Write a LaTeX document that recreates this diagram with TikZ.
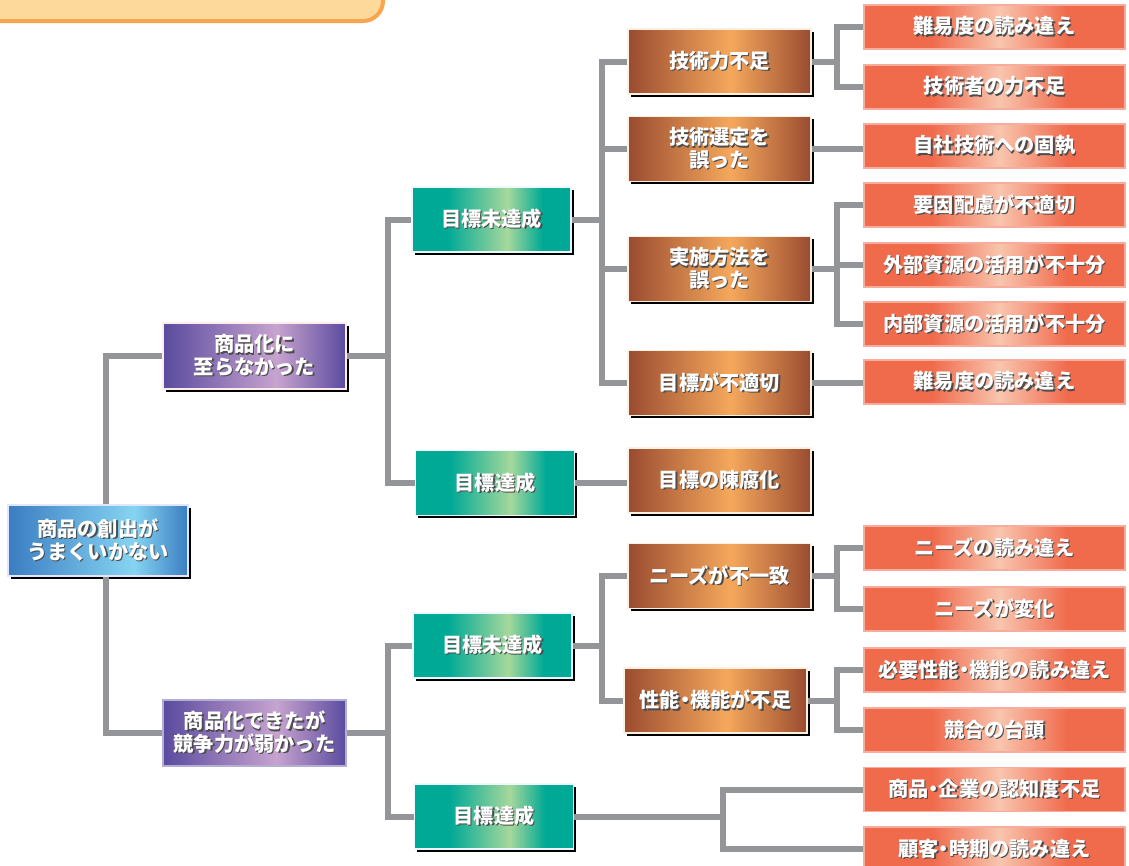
\documentclass[tikz,border=0pt]{standalone}
\usepackage{fontspec}
\setmainfont{Noto Sans CJK JP}
\usetikzlibrary{shadows}
\definecolor{rootE}{HTML}{3A7DC2}
\definecolor{rootL}{HTML}{86D4F2}
\definecolor{purE}{HTML}{5A4B9F}
\definecolor{purL}{HTML}{C7A3CF}
\definecolor{tealE}{HTML}{00A996}
\definecolor{tealL}{HTML}{A6D89C}
\definecolor{brE}{HTML}{9A4B30}
\definecolor{brL}{HTML}{F5A85C}
\definecolor{orE}{HTML}{F06A4C}
\definecolor{orL}{HTML}{F8C5AE}
\definecolor{connC}{HTML}{939598}
\definecolor{titleF}{HTML}{FDDA9C}
\definecolor{titleD}{HTML}{F7A54E}
\pgfdeclarehorizontalshading{rootsh}{100bp}{color(0bp)=(rootE); color(25bp)=(rootE); color(60bp)=(rootL); color(75bp)=(rootE); color(100bp)=(rootE)}
\pgfdeclarehorizontalshading{pursh}{100bp}{color(0bp)=(purE); color(25bp)=(purE); color(56bp)=(purL); color(75bp)=(purE); color(100bp)=(purE)}
\pgfdeclarehorizontalshading{tealsh}{100bp}{color(0bp)=(tealE); color(25bp)=(tealE); color(36bp)=(tealE); color(55bp)=(tealL); color(66bp)=(tealE); color(75bp)=(tealE); color(100bp)=(tealE)}
\pgfdeclarehorizontalshading{brsh}{100bp}{color(0bp)=(brE); color(25bp)=(brE); color(53bp)=(brL); color(75bp)=(brE); color(100bp)=(brE)}
\pgfdeclarehorizontalshading{orsh}{100bp}{color(0bp)=(orE); color(25bp)=(orE); color(38bp)=(orE); color(51bp)=(orL); color(64bp)=(orE); color(75bp)=(orE); color(100bp)=(orE)}
\newcommand\sht[1]{\leavevmode\rlap{\kern1.3pt\raisebox{-1.3pt}{\color{black!70}#1}}#1}
\newcommand\nd{\makebox[0.5em][c]{・}}
\begin{document}
\begin{tikzpicture}[x=1pt,y=-1pt,
  box/.style={rectangle, inner sep=0pt, text=white, align=center,
    font=\bfseries\fontsize{20.2}{22.5}\selectfont, line width=1.2pt},
  shd/.style={drop shadow={shadow xshift=2.5pt,shadow yshift=-2.5pt,fill=black,opacity=1}},
  lv0/.style={box, shd, shading=rootsh, draw=blue!10!white, minimum width=180pt, minimum height=71pt},
  lv1/.style={box, shd, shading=pursh, draw=red!8!white, minimum width=183pt, minimum height=66pt},
  lv1b/.style={box, shading=pursh, draw=purE!45!white, minimum width=183pt, minimum height=66pt},
  lv2/.style={box, shd, shading=tealsh, draw=cyan!8!white, minimum width=159pt, minimum height=65pt},
  lv3/.style={box, shd, shading=brsh, draw=orange!12!white, minimum width=183pt, minimum height=65pt},
  lv4/.style={box, shading=orsh, draw=orE!55!white, minimum width=261pt, minimum height=44pt},
  conn/.style={draw=connC, line width=6pt}]
\useasboundingbox (0,0) rectangle (1129,865);
\begin{scope}
\clip (0,0) rectangle (1129,865);
\draw[fill=titleF, draw=titleD, line width=4pt, rounded corners=20pt] (-40,-60) rectangle (383,21);
\end{scope}
% nodes
\node[lv0] (root) at (98,540.5) {\sht{商品の創出が}\\\sht{うまくいかない}};
\node[lv1] (L1a) at (254.5,356) {\sht{商品化に}\\\sht{至らなかった}};
\node[lv1b] (L1b) at (254.5,733) {\sht{商品化できたが}\\\sht{競争力が弱かった}};
\node[lv2] (L2a) at (491.5,219.5) {\sht{目標未達成}};
\node[lv2] (L2b) at (495,483) {\sht{目標達成}};
\node[lv2] (L2c) at (492.5,645.5) {\sht{目標未達成}};
\node[lv2] (L2d) at (494,816.5) {\sht{目標達成}};
\node[lv3] (L3a) at (719.5,61.5) {\sht{技術力不足}};
\node[lv3] (L3b) at (719.5,149) {\sht{技術選定を}\\\sht{誤った}};
\node[lv3] (L3c) at (719.5,269) {\sht{実施方法を}\\\sht{誤った}};
\node[lv3] (L3d) at (719.5,383) {\sht{目標が不適切}};
\node[lv3] (L3e) at (719.5,480.5) {\sht{目標の陳腐化}};
\node[lv3] (L3f) at (719.5,576) {\sht{ニーズが不一致}};
\node[lv3] (L3g) at (715.5,700.5) {\sht{性能\nd 機能が不足}};
\node[lv4] (L4a) at (994.5,27) {\sht{難易度の読み違え}};
\node[lv4] (L4b) at (994.5,87) {\sht{技術者の力不足}};
\node[lv4] (L4c) at (994.5,146) {\sht{自社技術への固執}};
\node[lv4] (L4d) at (994.5,205) {\sht{要因配慮が不適切}};
\node[lv4] (L4e) at (994.5,265) {\sht{外部資源の活用が不十分}};
\node[lv4] (L4f) at (994.5,324) {\sht{内部資源の活用が不十分}};
\node[lv4] (L4g) at (994.5,382) {\sht{難易度の読み違え}};
\node[lv4] (L4h) at (994.5,548) {\sht{ニーズの読み違え}};
\node[lv4] (L4i) at (994.5,609) {\sht{ニーズが変化}};
\node[lv4] (L4j) at (994.5,670) {\sht{必要性能\nd 機能の読み違え}};
\node[lv4] (L4k) at (994.5,730) {\sht{競合の台頭}};
\node[lv4] (L4l) at (994.5,789.5) {\sht{商品\nd 企業の認知度不足}};
\node[lv4] (L4m) at (994.5,849) {\sht{顧客\nd 時期の読み違え}};
% trunk coordinates
\coordinate (t0) at (106,0);
\coordinate (t1) at (388,0);
\coordinate (t2) at (602,0);
\coordinate (t3) at (837,0);
\coordinate (t4) at (723,0);
% connectors
\draw[conn] (root.north -| t0) |- (L1a.west);
\draw[conn] (root.south -| t0) |- (L1b.west);
\draw[conn] (L1a.east) -| (t1 |- L2a.west) -- (L2a.west);
\draw[conn] (L1a.east) -| (t1 |- L2b.west) -- (L2b.west);
\draw[conn] (L1b.east) -| (t1 |- L2c.west) -- (L2c.west);
\draw[conn] (L1b.east) -| (t1 |- L2d.west) -- (L2d.west);
\draw[conn] (L2a.east) -| (t2 |- L3a.west) -- (L3a.west);
\draw[conn] (L2a.east) -| (t2 |- L3b.west) -- (L3b.west);
\draw[conn] (L2a.east) -| (t2 |- L3c.west) -- (L3c.west);
\draw[conn] (L2a.east) -| (t2 |- L3d.west) -- (L3d.west);
\draw[conn] (L2b.east) -- (L2b.east -| L3e.west);
\draw[conn] (L2c.east) -| (t2 |- L3f.west) -- (L3f.west);
\draw[conn] (L2c.east) -| (t2 |- L3g.west) -- (L3g.west);
\draw[conn] (L3a.east) -| (t3 |- L4a.west) -- (L4a.west);
\draw[conn] (L3a.east) -| (t3 |- L4b.west) -- (L4b.west);
\draw[conn] (L3b.east) -- (L3b.east -| L4c.west);
\draw[conn] (L3c.east) -| (t3 |- L4d.west) -- (L4d.west);
\draw[conn] (L3c.east) -| (t3 |- L4e.west) -- (L4e.west);
\draw[conn] (L3c.east) -| (t3 |- L4f.west) -- (L4f.west);
\draw[conn] (L3d.east) -- (L3d.east -| L4g.west);
\draw[conn] (L3f.east) -| (t3 |- L4h.west) -- (L4h.west);
\draw[conn] (L3f.east) -| (t3 |- L4i.west) -- (L4i.west);
\draw[conn] (L3g.east) -| (t3 |- L4j.west) -- (L4j.west);
\draw[conn] (L3g.east) -| (t3 |- L4k.west) -- (L4k.west);
\draw[conn] (L2d.east) -| (t4 |- L4l.west) -- (L4l.west);
\draw[conn] (L2d.east) -| (t4 |- L4m.west) -- (L4m.west);
\end{tikzpicture}
\end{document}
